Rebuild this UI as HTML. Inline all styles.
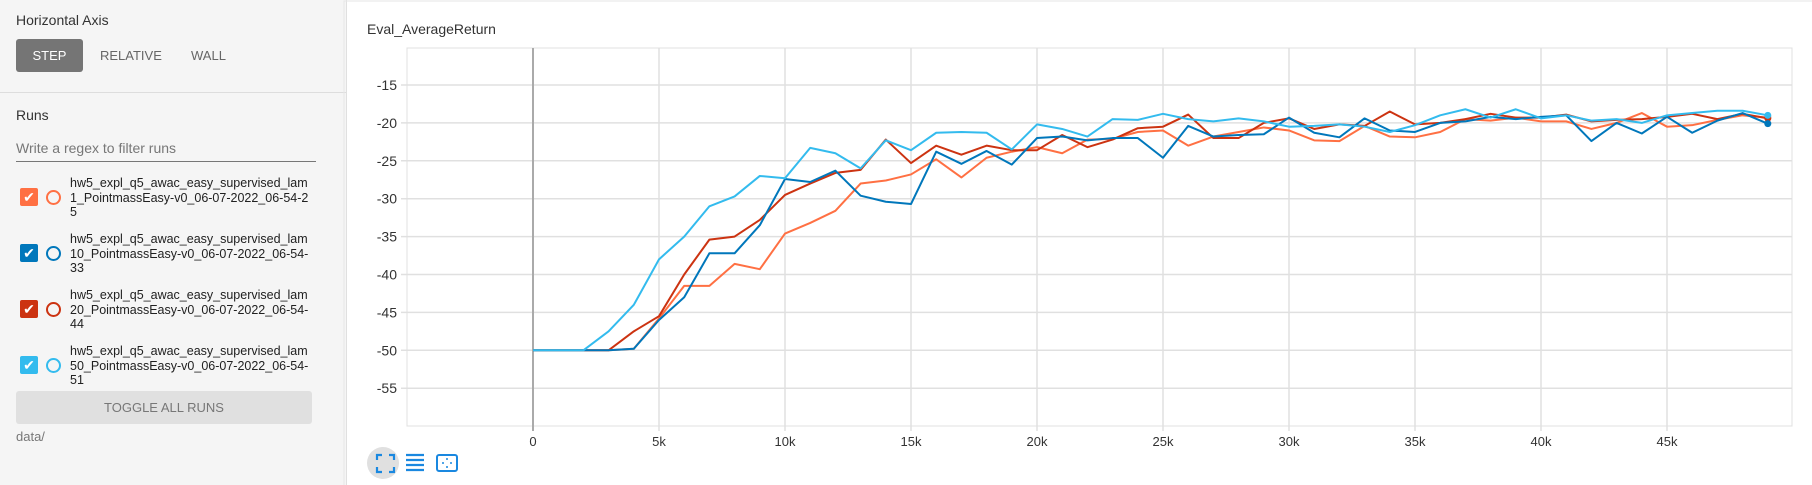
<!DOCTYPE html>
<html><head><meta charset="utf-8">
<style>
body{margin:0;width:1812px;height:485px;overflow:hidden;background:#fff;font-family:"Liberation Sans",sans-serif;position:relative}
#left{position:absolute;left:0;top:0;width:346px;height:485px;background:#f5f5f5;border-right:1px solid #e0e0e0}
.abs{position:absolute;white-space:nowrap}
.run{position:absolute;left:70px;font-size:12.5px;line-height:14.5px;color:#212121}
.cb{position:absolute;left:20px;width:18px;height:18px;border-radius:2px;color:#fff;font-size:14px;text-align:center;line-height:18px}
.circ{position:absolute;left:46px;width:11px;height:11px;border-radius:50%;border:2px solid}
</style></head><body>
<div id="left">
<div class="abs" style="left:16px;top:12px;font-size:14px;color:#333">Horizontal Axis</div>
<div class="abs" style="left:16px;top:39px;width:67px;height:33px;background:#757575;border-radius:3px;color:#fff;font-size:13px;text-align:center;line-height:33px">STEP</div>
<div class="abs" style="left:100px;top:39px;line-height:33px;font-size:13px;color:#666">RELATIVE</div>
<div class="abs" style="left:191px;top:39px;line-height:33px;font-size:13px;color:#666">WALL</div>
<div class="abs" style="left:0;top:92px;width:346px;height:1px;background:#ddd"></div>
<div class="abs" style="left:16px;top:107px;font-size:14px;color:#333">Runs</div>
<div class="abs" style="left:16px;top:140px;font-size:14px;color:#777">Write a regex to filter runs</div>
<div class="abs" style="left:16px;top:161px;width:300px;height:1px;background:#777"></div>

<div class="cb" style="top:188px;background:#ff7043">✔</div>
<div class="circ" style="top:190px;border-color:#ff7043"></div>
<div class="run" style="top:176px">hw5_expl_q5_awac_easy_supervised_lam<br>1_PointmassEasy-v0_06-07-2022_06-54-2<br>5</div>

<div class="cb" style="top:244px;background:#0077bb">✔</div>
<div class="circ" style="top:246px;border-color:#0077bb"></div>
<div class="run" style="top:232px">hw5_expl_q5_awac_easy_supervised_lam<br>10_PointmassEasy-v0_06-07-2022_06-54-<br>33</div>

<div class="cb" style="top:300px;background:#cc3311">✔</div>
<div class="circ" style="top:302px;border-color:#cc3311"></div>
<div class="run" style="top:288px">hw5_expl_q5_awac_easy_supervised_lam<br>20_PointmassEasy-v0_06-07-2022_06-54-<br>44</div>

<div class="cb" style="top:356px;background:#33bbee">✔</div>
<div class="circ" style="top:358px;border-color:#33bbee"></div>
<div class="run" style="top:344px">hw5_expl_q5_awac_easy_supervised_lam<br>50_PointmassEasy-v0_06-07-2022_06-54-<br>51</div>

<div class="abs" style="left:16px;top:391px;width:296px;height:33px;background:#e0e0e0;border-radius:3px;color:#777;font-size:13px;text-align:center;line-height:33px">TOGGLE ALL RUNS</div>
<div class="abs" style="left:16px;top:429px;font-size:13px;color:#777">data/</div>
</div>

<div class="abs" style="left:367px;top:21px;font-size:14px;color:#333">Eval_AverageReturn</div>
<svg id="chart" style="position:absolute;left:0;top:0" width="1812" height="485"></svg>
<div class="abs" style="left:367px;top:447px;width:32px;height:32px;border-radius:50%;background:#e0e0e0"></div>
<svg class="abs" style="left:0;top:0" width="1812" height="485">
<path d="M377 460v-5h5M389 455h5v5M394 467v5h-5M382 472h-5v-5" stroke="#1a88e0" stroke-width="2.2" fill="none"/>
<path d="M406 455h18M406 460h18M406 465h18M406 470h18" stroke="#1a88e0" stroke-width="2.2"/>
<rect x="437" y="455" width="20" height="16" rx="2" stroke="#1a88e0" stroke-width="2" fill="none"/>
<circle cx="443" cy="463" r="1" fill="#1a88e0"/><circle cx="451" cy="463" r="1" fill="#1a88e0"/><circle cx="447" cy="459" r="1" fill="#1a88e0"/><circle cx="447" cy="467" r="1" fill="#1a88e0"/>
</svg>
<script>
const steps=[0,1,2,3,4,5,6,7,8,9,10,11,12,13,14,15,16,17,18,19,20,21,22,23,24,25,26,27,28,29,30,31,32,33,34,35,36,37,38,39,40,41,42,43,44,45,46,47,48,49];
const lam1=[-50,-50,-50,-50,-49.8,-45.8,-41.5,-41.5,-38.6,-39.3,-34.6,-33.2,-31.6,-28,-27.6,-26.8,-24.8,-27.2,-24.6,-23.8,-23.2,-24,-22.2,-22.1,-21.2,-21,-23,-21.8,-21.2,-20.6,-21,-22.3,-22.4,-20.4,-21.8,-21.9,-21.2,-19.5,-19.7,-19.3,-19.8,-19.8,-20.8,-20,-18.7,-20.5,-20.3,-19.6,-19,-19.3];
const lam10=[-50,-50,-50,-50,-49.8,-46,-43,-37.2,-37.2,-33.5,-27.4,-27.8,-26.3,-29.6,-30.4,-30.7,-23.8,-25.4,-23.7,-25.5,-22,-21.8,-22.3,-22,-22,-24.6,-20.4,-21.8,-21.6,-21.5,-19.3,-21.3,-21.9,-19.4,-21,-21.2,-20,-19.8,-19.2,-19.5,-19.2,-19,-22.4,-20,-21.4,-19.2,-21.3,-19.7,-18.7,-20.1];
const lam20=[-50,-50,-50,-50,-47.5,-45.5,-40,-35.4,-35,-32.8,-29.5,-28,-26.6,-26.2,-22.2,-25.3,-23,-24.2,-23,-23.6,-23.6,-21.6,-23.2,-22.2,-20.7,-20.5,-18.9,-22,-22,-20,-19.4,-20.8,-20.2,-20.4,-18.5,-20.2,-20,-19.5,-18.8,-19.3,-19.3,-18.9,-19.8,-19.6,-19.5,-19.2,-18.8,-19.5,-18.8,-19.4];
const lam50=[-50,-50,-50,-47.5,-44,-38,-35,-31,-29.7,-27,-27.3,-23.3,-24,-26,-22.3,-23.6,-21.3,-21.2,-21.3,-23.5,-20.2,-20.8,-21.8,-19.5,-19.6,-18.8,-19.5,-19.8,-19.4,-19.8,-20.5,-20.4,-20.2,-20.5,-21.2,-20.3,-19,-18.2,-19.3,-18.2,-19.4,-19,-19.7,-19.5,-20,-19,-18.7,-18.4,-18.4,-19];
const xTicks=[0,5,10,15,20,25,30,35,40,45];
const xTickLabels=["0","5k","10k","15k","20k","25k","30k","35k","40k","45k"];
const yTicks=[-15,-20,-25,-30,-35,-40,-45,-50,-55];

const X=k=>533+k*25.2;
const Y=v=>85+(-15-v)*7.58;
const L=407,R=1792,T=48,B=426;
const svg=document.getElementById('chart');
const NS='http://www.w3.org/2000/svg';
function mk(tag,attrs){const e=document.createElementNS(NS,tag);for(const k in attrs)e.setAttribute(k,attrs[k]);svg.appendChild(e);return e;}
const frame=mk('rect',{x:L,y:T,width:R-L,height:B-T,fill:'none',stroke:'#e0e0e0','stroke-width':1});


const card=mk('path',{d:'M344 485V1H1812',fill:'none',stroke:'#e6e6e6','stroke-width':1});


yTicks.forEach(v=>{
 const g=mk('line',{x1:L-6,x2:R,y1:Y(v),y2:Y(v),stroke:'#e0e0e0','stroke-width':1.5});
 
 
 const t=mk('text',{x:L-10,y:Y(v)+5,'text-anchor':'end','font-size':14,fill:'#333','font-family':'Liberation Sans'});
 t.textContent=String(v);
 
 
});
xTicks.forEach((k,i)=>{
 const g=mk('line',{x1:X(k),x2:X(k),y1:T,y2:B+5,stroke:k===0?'#aaaaaa':'#e0e0e0','stroke-width':k===0?2:1.5});
 
 
 const t=mk('text',{x:X(k),y:446,'text-anchor':'middle','font-size':13,fill:'#333','font-family':'Liberation Sans'});
 t.textContent=xTickLabels[i];
 
 
});
const series=[[lam1,'#ff7043','line-lam1'],[lam20,'#cc3311','line-lam20'],[lam10,'#0077bb','line-lam10'],[lam50,'#33bbee','line-lam50']];
series.forEach(([d,c,n])=>{
 const p=mk('polyline',{points:d.map((v,i)=>X(steps[i])+','+Y(v)).join(' '),fill:'none',stroke:c,'stroke-width':2,'stroke-linejoin':'round'});
 
 
 const last=d.length-1;
 const c2=mk('circle',{cx:X(steps[last]),cy:Y(d[last]),r:3.5,fill:c});
 
 
});
</script>
</body></html>
